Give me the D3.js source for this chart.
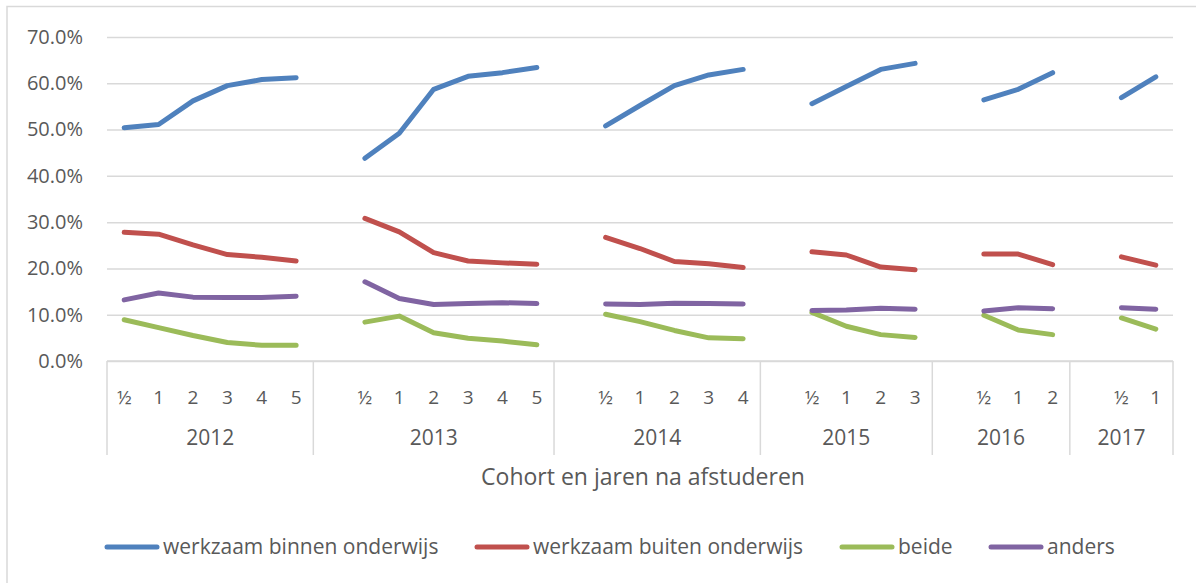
<!DOCTYPE html>
<html>
<head>
<meta charset="utf-8">
<script src="https://cdn.jsdelivr.net/npm/d3@7"></script>
<style>
body { margin: 0; background: #fff; }
text { font-family: "Open Sans", Lato, sans-serif; fill: #595959; }
</style>
</head>
<body>
<div class="chart"></div>
<script>
// cohorts and the years after graduation measured per cohort
const cohorts = ["2012", "2013", "2014", "2015", "2016", "2017"];
const years = [
	["½", "1", "2", "3", "4", "5"],
	["½", "1", "2", "3", "4", "5"],
	["½", "1", "2", "3", "4"],
	["½", "1", "2", "3"],
	["½", "1", "2"],
	["½", "1"]
];
const yTicks = [0, 0.1, 0.2, 0.3, 0.4, 0.5, 0.6, 0.7];

// values per cohort (percent)
const binnen = [
	[50.4, 51.1, 56.2, 59.5, 60.8, 61.2],
	[43.8, 49.2, 58.7, 61.5, 62.3, 63.4],
	[50.8, 55.2, 59.5, 61.8, 63.0],
	[55.6, 59.3, 63.0, 64.3],
	[56.4, 58.7, 62.3],
	[56.9, 61.4]
];
const buiten = [
	[27.8, 27.4, 25.1, 23.0, 22.4, 21.6],
	[30.8, 27.9, 23.4, 21.6, 21.2, 20.9],
	[26.7, 24.3, 21.5, 21.0, 20.2],
	[23.6, 22.9, 20.3, 19.7],
	[23.1, 23.1, 20.8],
	[22.5, 20.7]
];
const beide = [
	[8.9, 7.2, 5.5, 4.0, 3.4, 3.4],
	[8.4, 9.7, 6.1, 4.9, 4.3, 3.5],
	[10.1, 8.5, 6.6, 5.0, 4.8],
	[10.5, 7.5, 5.7, 5.1],
	[9.9, 6.7, 5.7],
	[9.3, 6.9]
];
const anders = [
	[13.2, 14.7, 13.8, 13.7, 13.7, 14.0],
	[17.1, 13.5, 12.2, 12.4, 12.6, 12.4],
	[12.3, 12.2, 12.5, 12.4, 12.3],
	[10.9, 11.0, 11.4, 11.2],
	[10.8, 11.5, 11.3],
	[11.5, 11.2]
];

const seriesNames = ["werkzaam binnen onderwijs", "werkzaam buiten onderwijs", "beide", "anders"];
const seriesValues = [binnen, buiten, beide, anders];
const colors = ["#4f81bd", "#c0504d", "#9bbb59", "#8064a2"];

// flat category list, one blank slot before every cohort except the first
let cats = [];
let groups = [];
cohorts.forEach((c, gi) => {
	let keys = [];
	if (gi > 0) { cats.push({key: c + "|", label: "", gi: gi, yi: -1}); keys.push(c + "|"); }
	years[gi].forEach((y, yi) => {
		cats.push({key: c + "|" + y, label: y, gi: gi, yi: yi});
		keys.push(c + "|" + y);
	});
	groups.push({name: c, keys: keys});
});

const outWidth = 1196, outHeight = 583;
const plotLeft = 107, plotRight = 1173, plotTop = 37, plotBottom = 361;

const svg = d3.select(".chart").append("svg")
	.attr("width", outWidth)
	.attr("height", outHeight);

// chart border
svg.append("rect")
	.attr("x", 7).attr("y", 6.5)
	.attr("width", outWidth).attr("height", outHeight)
	.attr("fill", "none").attr("stroke", "#d9d9d9").attr("stroke-width", 1.5);

const x = d3.scaleBand()
	.domain(cats.map(d => d.key))
	.range([plotLeft, plotRight]);
const y = d3.scaleLinear()
	.domain([0, 0.7])
	.range([plotBottom, plotTop]);

// y axis with gridlines
const yAxis = d3.axisLeft(y)
	.tickValues(yTicks)
	.tickFormat(d3.format(".1%"))
	.tickSize(-(plotRight - plotLeft))
	.tickPadding(24);
const yg = svg.append("g")
	.attr("transform", `translate(${plotLeft},0)`)
	.call(yAxis);
yg.select(".domain").remove();
yg.selectAll(".tick line").attr("stroke", "#d9d9d9").attr("stroke-width", 1.5);
yg.selectAll(".tick text").style("font-size", "20px").attr("fill", "#595959");

// category axis box
const xg = svg.append("g");
xg.append("line")
	.attr("x1", plotLeft).attr("x2", plotRight)
	.attr("y1", plotBottom).attr("y2", plotBottom)
	.attr("stroke", "#d9d9d9").attr("stroke-width", 1.5);
const bounds = [plotLeft].concat(groups.map(g => x(g.keys[g.keys.length - 1]) + x.bandwidth()));
xg.selectAll(".sep")
	.data(bounds)
	.enter()
	.append("line")
	.attr("x1", d => d).attr("x2", d => d)
	.attr("y1", plotBottom).attr("y2", 455)
	.attr("stroke", "#d9d9d9").attr("stroke-width", 1.5);
xg.selectAll(".cat")
	.data(cats.filter(d => d.label !== ""))
	.enter()
	.append("text")
	.attr("x", d => x(d.key) + x.bandwidth() / 2)
	.attr("y", 404)
	.attr("text-anchor", "middle")
	.style("font-size", "19px")
	.text(d => d.label);
xg.selectAll(".grp")
	.data(groups)
	.enter()
	.append("text")
	.attr("x", g => (x(g.keys[0]) + x(g.keys[g.keys.length - 1]) + x.bandwidth()) / 2)
	.attr("y", 445)
	.attr("text-anchor", "middle")
	.style("font-size", "21px")
	.text(g => g.name);

svg.append("text")
	.attr("x", (plotLeft + plotRight) / 2 + 3)
	.attr("y", 485)
	.attr("text-anchor", "middle")
	.style("font-size", "23px")
	.text("Cohort en jaren na afstuderen");

// lines, broken at the blank slots
const line = d3.line()
	.defined(d => d.v != null)
	.x(d => x(d.key) + x.bandwidth() / 2)
	.y(d => y(d.v / 100));

seriesValues.forEach((vals, si) => {
	const pts = cats.map(c => ({key: c.key, v: c.yi < 0 ? null : vals[c.gi][c.yi]}));
	svg.append("path")
		.datum(pts)
		.attr("d", line)
		.attr("fill", "none")
		.attr("stroke", colors[si])
		.attr("stroke-width", 5)
		.attr("stroke-linecap", "round")
		.attr("stroke-linejoin", "round");
});

// legend
const legendX = [105, 475, 840, 989];
const lg = svg.append("g");
lg.selectAll("line")
	.data(seriesNames)
	.enter()
	.append("line")
	.attr("x1", (d, i) => legendX[i] + 2)
	.attr("x2", (d, i) => legendX[i] + 52)
	.attr("y1", 547).attr("y2", 547)
	.attr("stroke", (d, i) => colors[i])
	.attr("stroke-width", 5)
	.attr("stroke-linecap", "round");
lg.selectAll("text")
	.data(seriesNames)
	.enter()
	.append("text")
	.attr("x", (d, i) => legendX[i] + 58)
	.attr("y", 554)
	.style("font-size", "21px")
	.text(d => d);
</script>
</body>
</html>
